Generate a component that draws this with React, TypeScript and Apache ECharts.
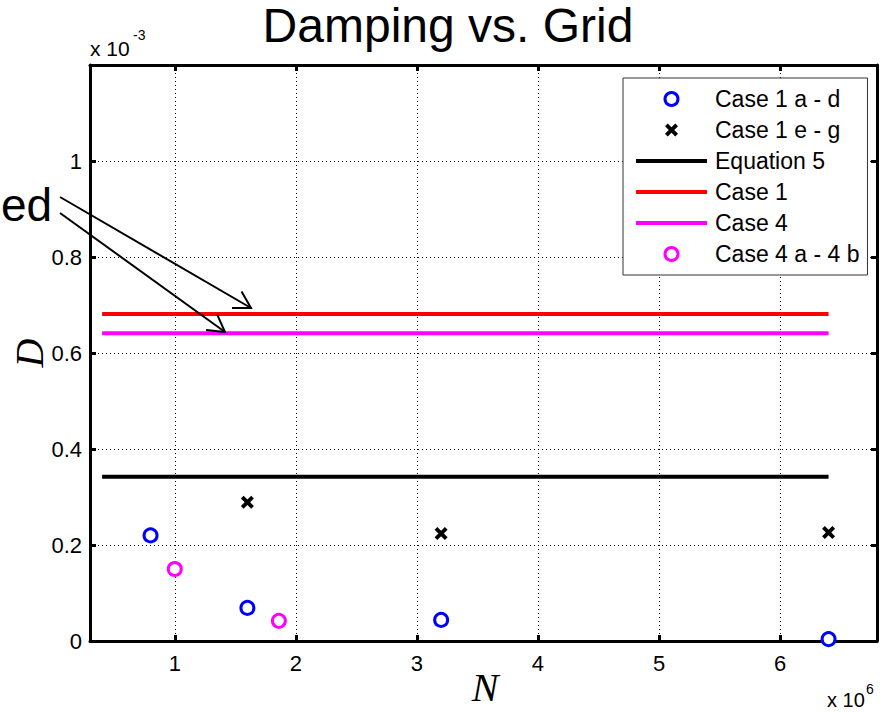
import React, { useEffect, useRef } from 'react';
import * as echarts from 'echarts';

// ---- data (N in units of 1e6, D in units of 1e-3) ----
const xTicks = [1, 2, 3, 4, 5, 6];
const yTicks = [0, 0.2, 0.4, 0.6, 0.8, 1];
const case1AD_N = [0.8, 1.6, 3.2, 6.4];
const case1AD_D = [0.22, 0.069, 0.044, 0.004];
const case1EG_N = [1.6, 3.2, 6.4];
const case1EG_D = [0.289, 0.224, 0.226];
const case4AB_N = [1.0, 1.86];
const case4AB_D = [0.15, 0.042];
const lineN = [0.4, 6.4];
const eq5D = [0.342, 0.342];
const case1D = [0.681, 0.681];
const case4D = [0.641, 0.641];
const seriesNames = ['Case 1 a - d', 'Case 1 e - g', 'Equation 5', 'Case 1', 'Case 4', 'Case 4 a - 4 b'];
const lineNames = ['Equation 5', 'Case 1', 'Case 4'];
const circleNames = ['Case 1 a - d', 'Case 4 a - 4 b'];

const SANS = "'Liberation Sans', Arial, sans-serif";
const SERIF = "'Liberation Serif', 'Times New Roman', serif";
const CROSS = 'path://M0,2.5 L2.5,0 L6,3.5 L9.5,0 L12,2.5 L8.5,6 L12,9.5 L9.5,12 L6,8.5 L2.5,12 L0,9.5 L3.5,6 Z';
const BAR = 'path://M0,0 L71,0 L71,4 L0,4 Z';

const zip = (xs: number[], ys: number[]) => xs.map((x, i) => [x, ys[i]]);

function arrow(x1: number, y1: number, x2: number, y2: number) {
  const a = Math.atan2(y2 - y1, x2 - x1);
  const L = 19;
  const h = Math.PI / 6;
  const w1 = [x2 - L * Math.cos(a + h), y2 - L * Math.sin(a + h)];
  const w2 = [x2 - L * Math.cos(a - h), y2 - L * Math.sin(a - h)];
  const st = { stroke: '#000', lineWidth: 2, fill: null };
  return [
    { type: 'line', z: 100, shape: { x1, y1, x2, y2 }, style: st },
    { type: 'polyline', z: 100, shape: { points: [w1, [x2, y2], w2] }, style: st },
  ];
}

const axisLine = { show: true, onZero: false, lineStyle: { color: '#000', width: 3 } };

export default function App() {
  const ref = useRef<HTMLDivElement>(null);
  useEffect(() => {
    if (!ref.current) return;
    const chart = echarts.init(ref.current, undefined, { renderer: 'svg' });
    const lineSeries = (name: string, ys: number[], color: string) => ({
      name,
      type: 'line',
      data: zip(lineN, ys),
      symbol: 'none',
      xAxisIndex: 0,
      yAxisIndex: 0,
      lineStyle: { color, width: 4 },
      itemStyle: { color },
      z: 3,
    });
    const circleSeries = (name: string, xs: number[], ys: number[], color: string) => ({
      name, type: 'scatter', data: zip(xs, ys),
      symbol: 'circle', symbolSize: 13,
      itemStyle: { color: '#fff', borderColor: color, borderWidth: 3, opacity: 1 }, z: 5,
    });
    chart.setOption({
      animation: false,
      backgroundColor: '#fff',
      grid: { left: 90, top: 65, width: 787, height: 576, containLabel: false },
      xAxis: [
        {
          type: 'value', min: 0.3, max: 6.8, position: 'bottom',
          axisLine,
          axisTick: { show: true, inside: true, length: 6, customValues: xTicks, lineStyle: { color: '#000', width: 3 } },
          axisLabel: { customValues: xTicks, color: '#000', fontSize: 22, fontFamily: SANS, margin: 11 },
          splitLine: { show: true, lineStyle: { color: '#000', width: 1, type: [1, 3] } },
        },
        {
          type: 'value', min: 0.3, max: 6.8, position: 'top',
          axisLine,
          axisTick: { show: true, inside: true, length: 6, customValues: xTicks, lineStyle: { color: '#000', width: 3 } },
          axisLabel: { show: false },
          splitLine: { show: false },
        },
      ],
      yAxis: [
        {
          type: 'value', min: 0, max: 1.2, position: 'left',
          axisLine,
          axisTick: { show: true, inside: true, length: 6, customValues: yTicks, lineStyle: { color: '#000', width: 3 } },
          axisLabel: { customValues: yTicks, color: '#000', fontSize: 22, fontFamily: SANS, margin: 8, formatter: (v: number) => String(v) },
          splitLine: { show: true, lineStyle: { color: '#000', width: 1, type: [1, 3] } },
        },
        {
          type: 'value', min: 0, max: 1.2, position: 'right',
          axisLine,
          axisTick: { show: true, inside: true, length: 6, customValues: yTicks, lineStyle: { color: '#000', width: 3 } },
          axisLabel: { show: false },
          splitLine: { show: false },
        },
      ],
      legend: {
        data: seriesNames.map((n) =>
          lineNames.includes(n)
            ? { name: n, icon: BAR }
            : circleNames.includes(n)
            ? { name: n, itemStyle: { borderWidth: 3 } }
            : { name: n }
        ),
        orient: 'vertical',
        left: 623,
        top: 78,
        padding: [9, 8, 9, 13],
        itemGap: 7,
        itemWidth: 71,
        itemHeight: 13,
        itemSymbolKeepAspect: true,
        backgroundColor: '#fff',
        borderColor: '#333',
        borderWidth: 1,
        borderRadius: 0,
        textStyle: { color: '#000', fontSize: 23, fontFamily: SANS, lineHeight: 24, padding: [0, 0, 0, 3] },
        selectedMode: false,
      },
      series: [
        lineSeries('Equation 5', eq5D, '#000000'),
        lineSeries('Case 1', case1D, '#ff0000'),
        lineSeries('Case 4', case4D, '#ff00ff'),
        circleSeries('Case 1 a - d', case1AD_N, case1AD_D, '#0000ff'),
        {
          name: 'Case 1 e - g', type: 'scatter', data: zip(case1EG_N, case1EG_D),
          symbol: CROSS, symbolSize: 13,
          itemStyle: { color: '#000', opacity: 1 }, z: 5,
        },
        circleSeries('Case 4 a - 4 b', case4AB_N, case4AB_D, '#ff00ff'),
      ],
      graphic: [
        { type: 'text', x: 448, y: 25.4, z: 50, style: { text: 'Damping vs. Grid', font: `48px ${SANS}`, fill: '#000', align: 'center', verticalAlign: 'middle' } },
        { type: 'text', x: 90, y: 48, z: 50, style: { text: 'x 10', font: `21px ${SANS}`, fill: '#000', align: 'left', verticalAlign: 'middle' } },
        { type: 'text', x: 133, y: 35, z: 50, style: { text: '-3', font: `14px ${SANS}`, fill: '#000', align: 'left', verticalAlign: 'middle' } },
        { type: 'text', x: 827, y: 700, z: 50, style: { text: 'x 10', font: `20px ${SANS}`, fill: '#000', align: 'left', verticalAlign: 'middle' } },
        { type: 'text', x: 866, y: 689, z: 50, style: { text: '6', font: `14px ${SANS}`, fill: '#000', align: 'left', verticalAlign: 'middle' } },
        { type: 'text', x: 485, y: 687.5, z: 50, style: { text: 'N', font: `italic 40px ${SERIF}`, fill: '#000', align: 'center', verticalAlign: 'middle' } },
        { type: 'text', x: 29.5, y: 353, rotation: Math.PI / 2, z: 50, style: { text: 'D', font: `italic 40px ${SERIF}`, fill: '#000', align: 'center', verticalAlign: 'middle' } },
        { type: 'text', x: 1, y: 205.4, z: 50, style: { text: 'ed', font: `46px ${SANS}`, fill: '#000', align: 'left', verticalAlign: 'middle' } },
        ...arrow(60, 197, 251, 308),
        ...arrow(60, 213, 225, 332),
      ],
    });
    return () => chart.dispose();
  }, []);
  return <div ref={ref} style={{ position: 'fixed', left: 0, top: 0, width: 889, height: 712 }} />;
}
